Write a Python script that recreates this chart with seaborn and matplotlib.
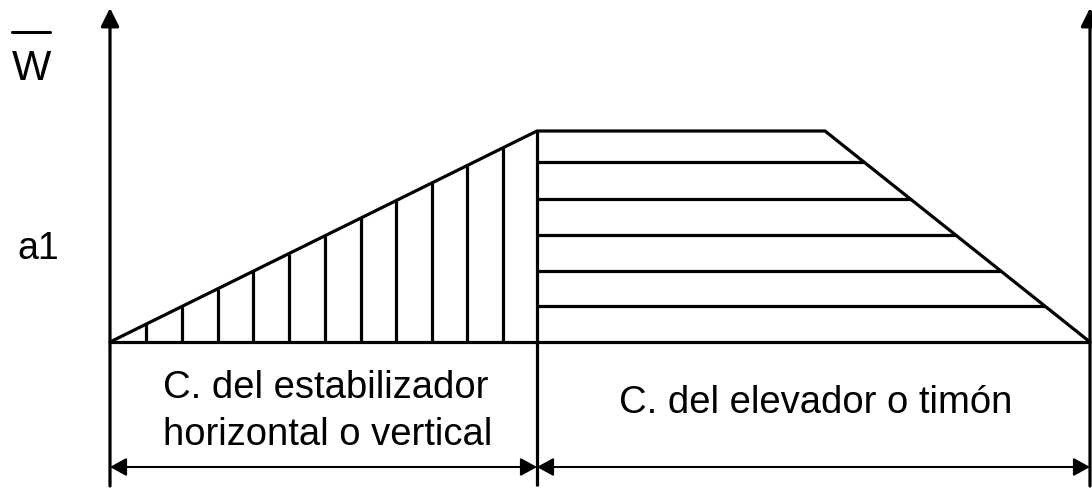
import seaborn as sns
import pandas as pd
import matplotlib.pyplot as plt
import numpy as np

# geometria del diagrama (en pixeles de la imagen, y hacia abajo)
x_left = 110
x_mid = 537
x_right = 1090
y_base = 343
y_top = 132
x_plateau_end = 825
y_arrow_top = 9
y_bottom = 487
y_dim = 468

# contorno: triangulo del estabilizador + trapecio del elevador
outline_x = [x_left, x_mid, x_plateau_end, x_right]
outline_y = [y_base, y_top, y_top, y_base]

# rayado vertical (estabilizador) y horizontal (elevador)
hatch_v_x = [146, 182, 218, 253, 289, 325, 361, 396, 432, 467, 503]
hatch_h_y = [163, 200, 236, 272, 307]

label_w = "W"
label_a1 = "a1"
label_stab = ["C. del estabilizador", "horizontal o vertical"]
label_elev = "C. del elevador o timón"

sns.set_theme(style="white")
plt.rcParams['font.family'] = ['Liberation Sans', 'DejaVu Sans']

fig = plt.figure(figsize=(10.92, 4.89), dpi=100)
ax = fig.add_axes([0, 0, 1, 1])
ax.set_xlim(0, 1092)
ax.set_ylim(489, 0)
ax.axis("off")

lw = 2.3
df = pd.DataFrame({"x": outline_x, "y": outline_y})
sns.lineplot(data=df, x="x", y="y", sort=False, color="black", lw=lw, ax=ax)
ax.hlines(y_base, x_left, x_right, color="black", lw=lw)
ax.vlines(x_mid, y_top, y_bottom, color="black", lw=lw)

# rayado vertical hasta la recta inclinada
tops_v = np.interp(hatch_v_x, [x_left, x_mid], [y_base, y_top])
ax.vlines(hatch_v_x, tops_v, y_base, color="black", lw=lw)
# rayado horizontal hasta la recta inclinada
ends_h = np.interp(hatch_h_y, [y_top, y_base], [x_plateau_end, x_right])
ax.hlines(hatch_h_y, x_mid, ends_h, color="black", lw=lw)

# ejes verticales con flecha
axis_arrow = dict(arrowstyle="-|>,head_length=1.1,head_width=0.55",
                  color="black", lw=lw, shrinkA=0, shrinkB=0, mutation_scale=10)
for xa in [x_left, x_right]:
    ax.annotate("", xy=(xa, y_arrow_top), xytext=(xa, y_bottom), arrowprops=axis_arrow)

# cotas inferiores
dim_arrow = dict(arrowstyle="<|-|>,head_length=1.0,head_width=0.55",
                 color="black", lw=1.5, shrinkA=0, shrinkB=0, mutation_scale=10)
ax.annotate("", xy=(x_left, y_dim), xytext=(x_mid, y_dim), arrowprops=dim_arrow)
ax.annotate("", xy=(x_right, y_dim), xytext=(x_mid, y_dim), arrowprops=dim_arrow)

# textos
ax.text(31, 80, label_w, fontsize=30, ha="center", va="baseline", color="black")
ax.plot([12, 50], [33, 33], color="black", lw=2.2)
ax.text(17, 259, label_a1, fontsize=27, ha="left", va="baseline", color="black")
for line, yb in zip(label_stab, [398, 445]):
    ax.text(163, yb, line, fontsize=27.5, ha="left", va="baseline", color="black")
ax.text(816, 413, label_elev, fontsize=27.5, ha="center", va="baseline", color="black")

fig.savefig("out.png", dpi=100, facecolor="white")
